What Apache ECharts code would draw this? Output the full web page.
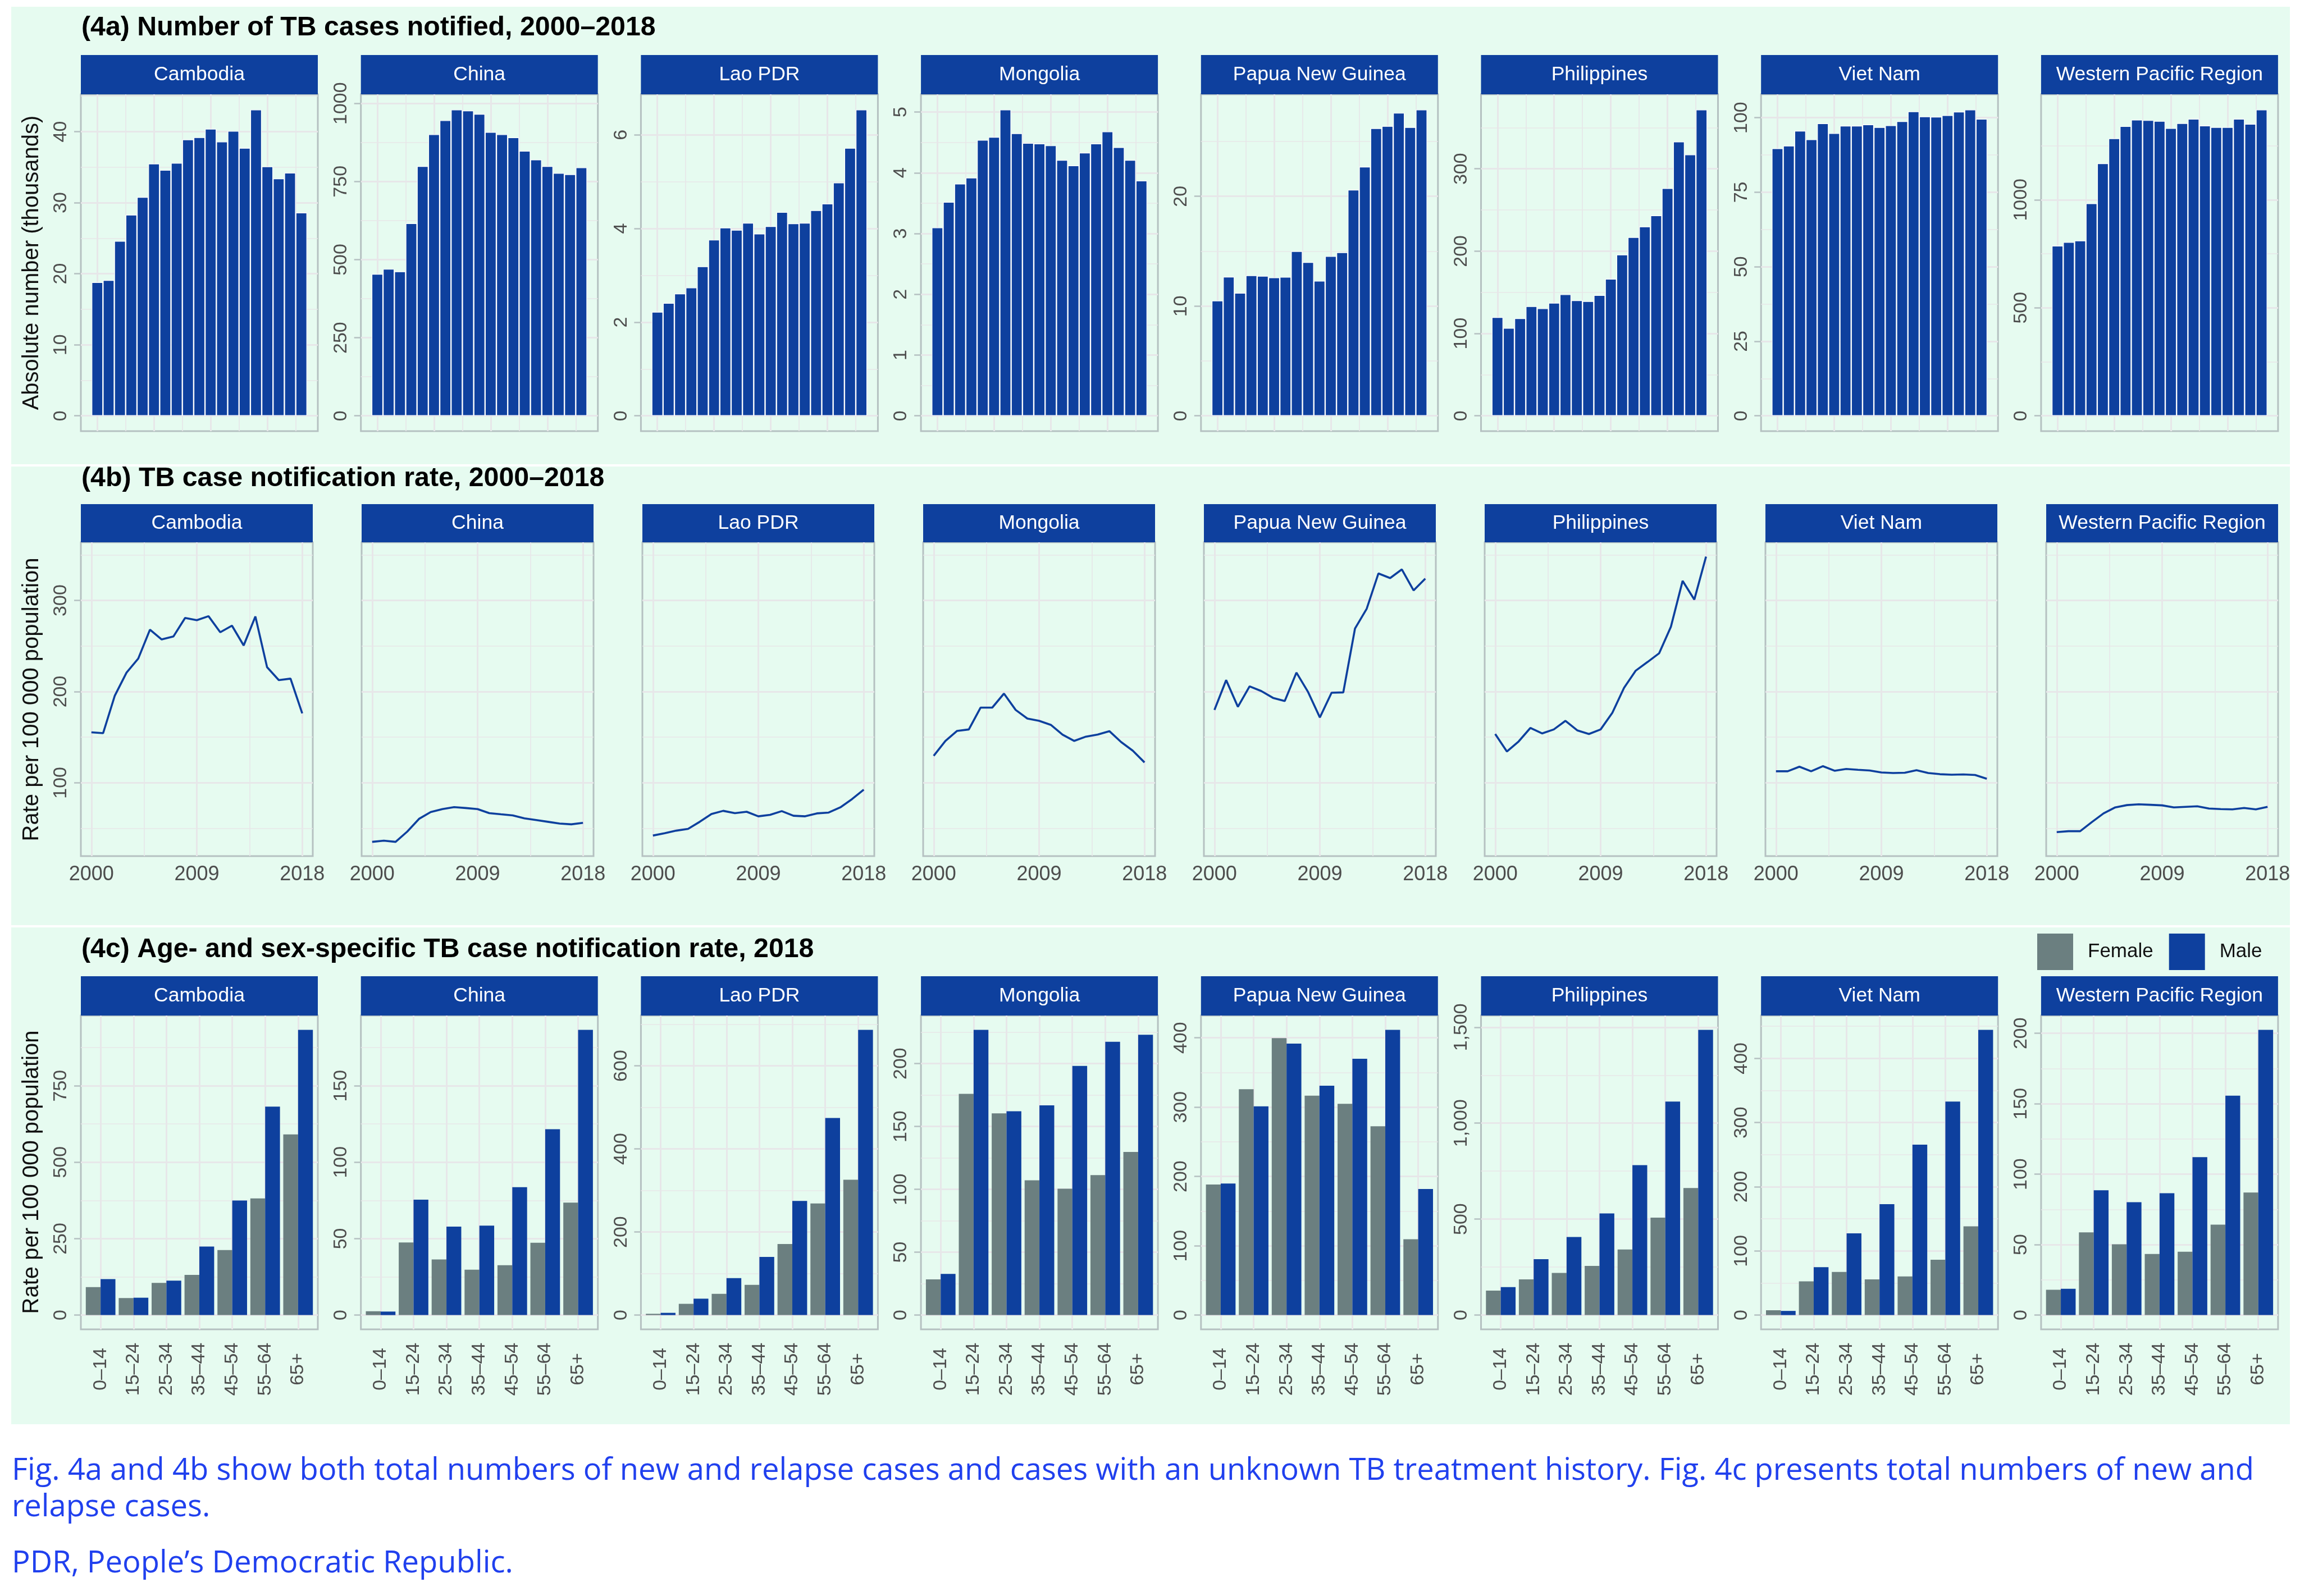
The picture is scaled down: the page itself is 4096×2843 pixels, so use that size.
<!DOCTYPE html>
<html>
<head>
<meta charset="utf-8">
<title>TB notifications, Western Pacific Region</title>
<script src="https://cdn.jsdelivr.net/npm/echarts@6/dist/echarts.min.js"></script>
<style>
html,body{margin:0;padding:0;background:#ffffff;}
#chart{width:4096px;height:2843px;}
</style>
</head>
<body>
<div id="chart"></div>
<script>
// ---------------- data ----------------
const countries = ['Cambodia','China','Lao PDR','Mongolia','Papua New Guinea','Philippines','Viet Nam','Western Pacific Region'];
const years = [2000,2001,2002,2003,2004,2005,2006,2007,2008,2009,2010,2011,2012,2013,2014,2015,2016,2017,2018];
const ageGroups = ['0–14','15–24','25–34','35–44','45–54','55–64','65+'];

// (4a) number of TB cases notified (thousands)
const casesCambodia    = [18.8,19.1,24.6,28.3,30.8,35.5,34.6,35.6,38.9,39.2,40.4,38.6,40.1,37.7,43.1,35.1,33.4,34.2,28.6];
const casesChina       = [454,470,462,616,799,901,946,980,977,966,908,901,891,848,820,799,777,773,795];
const casesLao         = [2.22,2.41,2.61,2.74,3.19,3.76,4.02,3.97,4.12,3.89,4.05,4.35,4.11,4.12,4.39,4.53,4.98,5.72,6.54];
const casesMongolia    = [3.10,3.52,3.82,3.92,4.54,4.59,5.04,4.65,4.49,4.48,4.45,4.21,4.12,4.33,4.48,4.68,4.42,4.21,3.87];
const casesPNG         = [10.5,12.67,11.2,12.8,12.75,12.6,12.65,15.0,14.0,12.3,14.55,14.9,20.6,22.7,26.2,26.4,27.6,26.3,27.9];
const casesPhilippines = [119.8,106.6,118.4,133.0,130.6,137.2,147.6,140.3,139.2,146.5,166.3,195.8,217.0,229.9,243.4,276.4,333.0,317.4,371.9];
const casesVietNam     = [89.7,90.6,95.6,92.7,98.1,94.8,97.3,97.3,97.7,96.8,97.4,98.8,102.1,100.4,100.3,100.8,102.0,102.7,99.6];
const casesWPR         = [787,804,811,983,1168,1284,1340,1370,1368,1364,1331,1354,1374,1343,1336,1336,1374,1351,1417];

// (4b) case notification rate per 100 000 population
const rateCambodia    = [155.3,154.4,195.6,220.8,236.2,267.9,257.2,260.4,280.8,278.3,282.7,265.1,272.3,250.6,282.4,226.7,212.6,214.2,176.1];
const rateChina       = [35.2,36.5,35.2,46.5,60.4,67.9,71.1,73.3,72.3,71.1,66.7,65.4,64.2,61.0,59.1,57.2,55.3,54.4,56.0];
const rateLao         = [42.1,44.7,47.5,49.4,57.2,65.7,69.2,66.7,68.2,63.2,64.8,68.9,63.8,63.2,66.4,67.3,73.0,82.1,92.5];
const rateMongolia    = [129.6,145.9,156.9,158.5,182.4,182.4,197.8,179.9,170.4,167.9,163.5,152.8,145.9,150.6,152.8,156.6,144.7,135.2,122.3];
const ratePNG         = [179.9,212.6,183.3,205.7,200.6,193.1,189.6,220.8,199.4,171.7,198.7,199.1,269.2,290.9,329.6,324.5,334.0,311.0,323.9];
const ratePhilippines = [153.5,134.3,145.3,160.1,154.1,158.5,167.9,157.5,153.5,158.5,176.7,204.1,223.0,232.4,242.1,271.1,321.4,300.9,348.1];
const rateVietNam     = [112.6,112.6,117.6,112.6,118.2,113.2,115.1,114.2,113.5,111.3,110.7,111.0,113.8,110.7,109.4,108.8,109.1,108.5,104.4];
const rateWPR         = [45.9,46.9,46.9,56.9,66.4,73.0,75.5,76.4,75.8,75.2,73.0,73.6,74.2,71.7,71.1,70.8,72.3,70.8,73.6];

// (4c) age- and sex-specific notification rate, 2018
const femaleCambodia    = [91.5,55.7,105.2,131.5,212.5,381.8,591.1];
const maleCambodia      = [117.8,56.8,112.5,224.0,374.5,681.6,933.0];
const femaleChina       = [2.5,47.5,36.4,29.7,32.6,47.3,73.6];
const maleChina         = [2.3,75.5,57.9,58.5,83.7,121.6,186.6];
const femaleLao         = [3.1,27.1,51.1,72.8,171.1,268.6,325.9];
const maleLao           = [5.4,39.5,89.0,140.1,274.8,474.5,686.7];
const femaleMongolia    = [28.4,176.0,160.4,107.2,100.5,111.3,129.7];
const maleMongolia      = [32.7,226.9,162.1,166.8,198.2,217.4,223.0];
const femalePNG         = [188.4,325.8,399.5,316.5,304.9,272.4,109.5];
const malePNG           = [189.8,301.2,391.6,330.9,369.8,411.6,181.9];
const femalePhilippines = [127.4,186.0,219.5,256.4,341.9,507.8,662.0];
const malePhilippines   = [145.8,291.6,407.2,529.6,781.0,1112.8,1486.5];
const femaleVietNam     = [7.5,52.6,67.2,55.6,60.2,86.2,138.3];
const maleVietNam       = [6.5,74.7,127.3,172.9,265.7,332.8,444.6];
const femaleWPR         = [18.0,58.7,50.2,43.4,45.0,64.2,87.0];
const maleWPR           = [18.7,88.6,80.1,86.5,112.1,155.7,202.5];

// tick labels
const ticks4a = [[0,10,20,30,40],[0,250,500,750,1000],[0,2,4,6],[0,1,2,3,4,5],[0,10,20],[0,100,200,300],[0,25,50,75,100],[0,500,1000]];
const ticks4b = [100,200,300];
const ticks4c = [[0,250,500,750],[0,50,100,150],[0,200,400,600],[0,50,100,150,200],[0,100,200,300,400],[0,500,1000,1500],[0,100,200,300,400],[0,50,100,150,200]];
const yearTicks4a = [2000,2005,2010,2015];
const yearTicks4b = [2000,2009,2018];

const cases4a = [casesCambodia,casesChina,casesLao,casesMongolia,casesPNG,casesPhilippines,casesVietNam,casesWPR];
const rate4b = [rateCambodia,rateChina,rateLao,rateMongolia,ratePNG,ratePhilippines,rateVietNam,rateWPR];
const female4c = [femaleCambodia,femaleChina,femaleLao,femaleMongolia,femalePNG,femalePhilippines,femaleVietNam,femaleWPR];
const male4c = [maleCambodia,maleChina,maleLao,maleMongolia,malePNG,malePhilippines,maleVietNam,maleWPR];

// ---------------- style ----------------
const BLUE = '#0e409e', GREY = '#6b7f80', MINT = '#e6fbf0', BORDER = '#b5c1c1', GRIDC = '#e7e7e9', TICKTXT = '#4d4d4d';
const FONT = '"Liberation Sans", Arial, Helvetica, sans-serif';

const grids = [], xAxis = [], yAxis = [], series = [], graphic = [];

function expandRange(lo, hi) { const s = hi - lo; return [lo - 0.05 * s, hi + 0.05 * s]; }
function minorTicks(major, lo, hi) {
  const step = major[1] - major[0], out = [];
  for (let k = -1; k < major.length; k++) {
    const v = major[0] + step * (k + 0.5);
    if (v > lo && v < hi) out.push(Math.round(v * 1e6) / 1e6);
  }
  return out;
}
function addAxes(list, gi, lo, hi, major, pos, label, tick, withMinor) {
  const idx = list.length;
  list.push({
    type: 'value', gridIndex: gi, min: lo, max: hi, position: pos,
    axisLine: { show: false },
    axisTick: tick ? Object.assign({ show: true, customValues: major, lineStyle: { color: BORDER, width: 2.5 } }, tick)
                   : { show: false, customValues: major },
    axisLabel: label ? Object.assign({ show: true, customValues: major, color: TICKTXT, fontFamily: FONT }, label)
                     : { show: false, customValues: major },
    splitLine: { show: true, lineStyle: { color: GRIDC, width: 3 } },
    minorTick: { show: false }, minorSplitLine: { show: false }
  });
  if (withMinor) {
    const minor = minorTicks(major, lo, hi);
    list.push({
      type: 'value', gridIndex: gi, min: lo, max: hi, position: (pos === 'left' ? 'right' : 'top'),
      axisLine: { show: false },
      axisTick: { show: false, customValues: minor },
      axisLabel: { show: false, customValues: minor },
      splitLine: { show: true, lineStyle: { color: GRIDC, width: 1.7 } }
    });
  }
  return idx;
}
function addGrid(left, top, width, height) {
  grids.push({ left: left, top: top, width: width, height: height, show: true, backgroundColor: MINT,
               borderColor: BORDER, borderWidth: 3, containLabel: false, outerBoundsMode: 'none' });
  return grids.length - 1;
}
function addStrip(left, top, width, height, text) {
  graphic.push({ type: 'rect', shape: { x: left, y: top, width: width, height: height }, style: { fill: BLUE }, silent: true });
  graphic.push({ type: 'text', x: left + width / 2, y: top + height / 2, silent: true,
                 style: { text: text, fill: '#ffffff', fontSize: 35.5, fontFamily: FONT, align: 'center', verticalAlign: 'middle' } });
}

// backgrounds
graphic.push({ type: 'rect', z: -100, silent: true, shape: { x: 20, y: 12, width: 4058, height: 815 }, style: { fill: MINT } });
graphic.push({ type: 'rect', z: -100, silent: true, shape: { x: 20, y: 831, width: 4058, height: 817 }, style: { fill: MINT } });
graphic.push({ type: 'rect', z: -100, silent: true, shape: { x: 20, y: 1652, width: 4058, height: 885 }, style: { fill: MINT } });

// titles
const titles = [
  ['(4a) Number of TB cases notified, 2000–2018', 50],
  ['(4b) TB case notification rate, 2000–2018', 853],
  ['(4c) Age- and sex-specific TB case notification rate, 2018', 1692]
];
titles.forEach(t => graphic.push({ type: 'text', x: 145, y: t[1], silent: true,
  style: { text: t[0], fill: '#000000', fontSize: 48.3, fontWeight: 'bold', fontFamily: FONT, verticalAlign: 'middle' } }));

// y-axis titles
[['Absolute number (thousands)', 468], ['Rate per 100 000 population', 1246], ['Rate per 100 000 population', 2088]]
  .forEach(t => graphic.push({ type: 'text', x: 57, y: t[1], rotation: Math.PI / 2, silent: true,
    style: { text: t[0], fill: '#111111', fontSize: 40, fontFamily: FONT, align: 'center', verticalAlign: 'middle' } }));

const yLabel = { rotate: 90, fontSize: 34, margin: 18 };

// ---------- row 4a ----------
countries.forEach((c, i) => {
  const left = 144 + 498.7 * i, top = 168, width = 422, height = 600;
  addStrip(left, 98, width, 70, c);
  const g = addGrid(left, top, width, height);
  const M = Math.max.apply(null, cases4a[i]);
  const yr = [-0.05 * M, 1.05 * M];
  const xi = addAxes(xAxis, g, 1998.55, 2019.45, yearTicks4a, 'bottom', null, null, true);
  const yi = addAxes(yAxis, g, yr[0], yr[1], ticks4a[i], 'left',
                     Object.assign({ formatter: v => String(v) }, yLabel), { length: 12 }, true);
  series.push({ type: 'bar', name: c, xAxisIndex: xi, yAxisIndex: yi, barWidth: '100%', silent: true,
    itemStyle: { color: BLUE, borderColor: '#ffffff', borderWidth: 1.2 },
    data: years.map((y, k) => [y, cases4a[i][k]]) });
});

// ---------- row 4b ----------
const allRates = [].concat.apply([], rate4b);
const r4b = expandRange(Math.min.apply(null, allRates), Math.max.apply(null, allRates));
countries.forEach((c, i) => {
  const left = 144 + 500 * i, top = 966, width = 413, height = 559;
  addStrip(left, 898, width, 68, c);
  const g = addGrid(left, top, width, height);
  const xi = addAxes(xAxis, g, 1999.1, 2018.9, yearTicks4b, 'bottom',
                     { fontSize: 36, margin: 15, formatter: v => String(v) }, null, true);
  const yi = addAxes(yAxis, g, r4b[0], r4b[1], ticks4b, 'left',
                     i === 0 ? Object.assign({ formatter: v => String(v) }, yLabel) : null,
                     i === 0 ? { length: 12 } : null, true);
  series.push({ type: 'line', name: c, xAxisIndex: xi, yAxisIndex: yi, symbol: 'none', silent: true,
    lineStyle: { color: BLUE, width: 3.6 }, itemStyle: { color: BLUE },
    data: years.map((y, k) => [y, rate4b[i][k]]) });
});

// ---------- row 4c ----------
countries.forEach((c, i) => {
  const left = 144 + 498.7 * i, top = 1809, width = 422, height = 559;
  addStrip(left, 1739, width, 70, c);
  const g = addGrid(left, top, width, height);
  const M = Math.max.apply(null, female4c[i].concat(male4c[i]));
  const xi = addAxes(xAxis, g, 0.4, 7.6, [1,2,3,4,5,6,7], 'bottom',
                     { rotate: 90, align: 'center', fontSize: 34, margin: 71, formatter: v => ageGroups[Math.round(v) - 1] },
                     null, false);
  const yi = addAxes(yAxis, g, -0.05 * M, 1.05 * M, ticks4c[i], 'left',
                     Object.assign({ formatter: v => v.toLocaleString('en-US') }, yLabel), { length: 12 }, true);
  series.push({ type: 'bar', name: 'Female', xAxisIndex: xi, yAxisIndex: yi, barWidth: '45%', barGap: '0%', silent: true,
    itemStyle: { color: GREY }, data: ageGroups.map((a, k) => [k + 1, female4c[i][k]]) });
  series.push({ type: 'bar', name: 'Male', xAxisIndex: xi, yAxisIndex: yi, barWidth: '45%', barGap: '0%', silent: true,
    itemStyle: { color: BLUE }, data: ageGroups.map((a, k) => [k + 1, male4c[i][k]]) });
});

// ---------- footnote ----------
const noteLines = [
  ['Fig. 4a and 4b show both total numbers of new and relapse cases and cases with an unknown TB treatment history. Fig. 4c presents total numbers of new and', 2621],
  ['relapse cases.', 2686],
  ['PDR, People’s Democratic Republic.', 2786]
];
const NOTE_FONT = '"Open Sans", "Noto Sans", sans-serif';
const cv = document.createElement('canvas').getContext('2d');
cv.font = '100px ' + NOTE_FONT;
const noteSize = 100 * 3994 / cv.measureText(noteLines[0][0]).width;
noteLines.forEach(l => graphic.push({ type: 'text', x: 21, y: l[1], silent: true,
  style: { text: l[0], fill: '#2040ee', fontSize: noteSize, fontFamily: NOTE_FONT, verticalAlign: 'middle' } }));

const chart = echarts.init(document.getElementById('chart'), null, { renderer: 'canvas', width: 4096, height: 2843 });
chart.setOption({
  animation: false,
  backgroundColor: '#ffffff',
  grid: grids, xAxis: xAxis, yAxis: yAxis, series: series,
  legend: {
    data: ['Female', 'Male'], left: 3623, top: 1658, icon: 'rect', itemWidth: 64, itemHeight: 65, itemGap: 28,
    selectedMode: false,
    textStyle: { fontSize: 35, color: '#111111', fontFamily: FONT, padding: [0, 0, 0, 21] }
  },
  graphic: { elements: graphic }
});
</script>
</body>
</html>
